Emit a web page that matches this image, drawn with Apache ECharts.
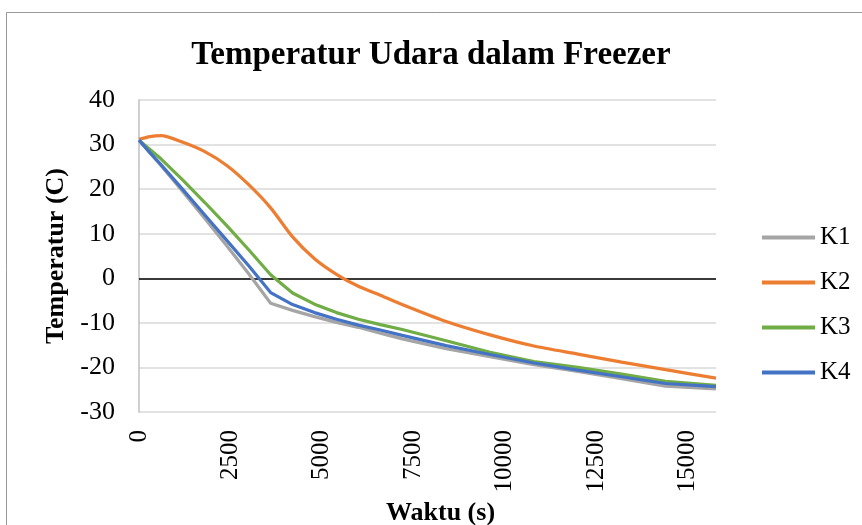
<!DOCTYPE html>
<html>
<head>
<meta charset="utf-8">
<script src="https://cdn.jsdelivr.net/npm/echarts@6/dist/echarts.min.js"></script>
<style>html,body{margin:0;padding:0;background:#fff}#c{width:862px;height:525px}</style>
</head>
<body>
<div id="c"></div>
<script>
// Data
var times = [0, 300, 600, 1200, 1800, 2400, 3000, 3600, 4200, 4800, 5400, 6000, 6600, 7200, 8400, 9600, 10800, 12000, 13200, 14400, 15780];
var seriesNames = ['K1', 'K2', 'K3', 'K4'];
var k1 = [31.0, 28.1, 25.3, 19.4, 13.4, 7.3, 1.0, -5.6, -7.2, -8.6, -9.9, -11.0, -12.3, -13.6, -15.8, -17.6, -19.4, -20.9, -22.5, -24.2, -24.8];
var k2 = [31.2, 31.8, 32.0, 30.5, 28.4, 25.3, 21.0, 15.8, 9.3, 4.4, 0.9, -1.8, -3.8, -5.9, -9.7, -12.7, -15.2, -17.0, -18.8, -20.5, -22.4];
var k3 = [31.0, 28.9, 26.8, 22.0, 17.0, 11.8, 6.4, 0.8, -3.3, -5.8, -7.7, -9.2, -10.4, -11.5, -14.0, -16.6, -18.7, -20.0, -21.5, -23.1, -24.0];
var k4 = [31.0, 28.2, 25.5, 19.9, 14.2, 8.5, 2.8, -3.2, -5.9, -7.7, -9.2, -10.5, -11.6, -12.8, -15.1, -17.1, -19.0, -20.6, -22.1, -23.6, -24.3];
var colors = ['#A5A5A5', '#ED7D31', '#70AD47', '#4472C4'];
var titleText = 'Temperatur Udara dalam Freezer';
var xName = 'Waktu (s)';
var yName = 'Temperatur (C)';

function pairs(ys) { return times.map(function (t, i) { return [t, ys[i]]; }); }
var allY = [k1, k2, k3, k4];
var font = 'Liberation Serif, Times New Roman, serif';

var chart = echarts.init(document.getElementById('c'), null, { renderer: 'canvas' });
var series = seriesNames.map(function (n, i) {
  return {
    name: n, type: 'line', data: pairs(allY[i]), showSymbol: false, symbol: 'none',
    smooth: i === 1 ? 0.25 : false,
    lineStyle: { color: colors[i], width: 3.2 }, itemStyle: { color: colors[i] },
    z: i === 1 ? 3 : (i === 0 ? 2 : 4)
  };
});
series[0].markLine = {
  silent: true, symbol: 'none', label: { show: false },
  lineStyle: { color: '#000', width: 1.5, type: 'solid' },
  data: [{ yAxis: 0 }], z: 1
};
chart.setOption({
  animation: false,
  backgroundColor: '#fff',
  graphic: [{ type: 'rect', left: 4, top: 10, shape: { width: 900, height: 600 }, style: { fill: 'none', stroke: '#999', lineWidth: 1 }, silent: true }],
  title: { text: titleText, left: 'center', top: 34, textStyle: { fontFamily: font, fontWeight: 'bold', fontSize: 33, color: '#000' } },
  legend: {
    orient: 'vertical', left: 757, top: 220, itemGap: 20, itemWidth: 53, itemHeight: 4,
    icon: 'rect', textStyle: { fontFamily: font, fontSize: 25, color: '#000', padding: [0, 0, 0, 0] },
    data: seriesNames
  },
  grid: { left: 139, right: 146, top: 100, bottom: 113, containLabel: false, outerBoundsMode: 'none' },
  xAxis: {
    type: 'value', min: 0, max: 15780, interval: 2500,
    name: xName, nameLocation: 'middle', nameGap: 86,
    nameTextStyle: { fontFamily: font, fontWeight: 'bold', fontSize: 26, color: '#000', padding: [0, 0, 0, 26] },
    axisLine: { show: false }, axisTick: { show: false }, splitLine: { show: false },
    axisLabel: { rotate: 90, fontFamily: font, fontSize: 25, color: '#000', margin: 18, showMaxLabel: false,
      formatter: function (v) { return String(v); } }
  },
  yAxis: {
    type: 'value', min: -30, max: 40, interval: 10,
    name: yName, nameLocation: 'middle', nameGap: 66,
    nameTextStyle: { fontFamily: font, fontWeight: 'bold', fontSize: 26, color: '#000' },
    axisLine: { show: true, lineStyle: { color: '#BFBFBF', width: 1.5 } }, axisTick: { show: false },
    splitLine: { show: true, lineStyle: { color: '#D9D9D9', width: 1.5 } },
    axisLabel: { fontFamily: font, fontSize: 26, color: '#000', margin: 24 }
  },
  series: series
});
</script>
</body>
</html>
